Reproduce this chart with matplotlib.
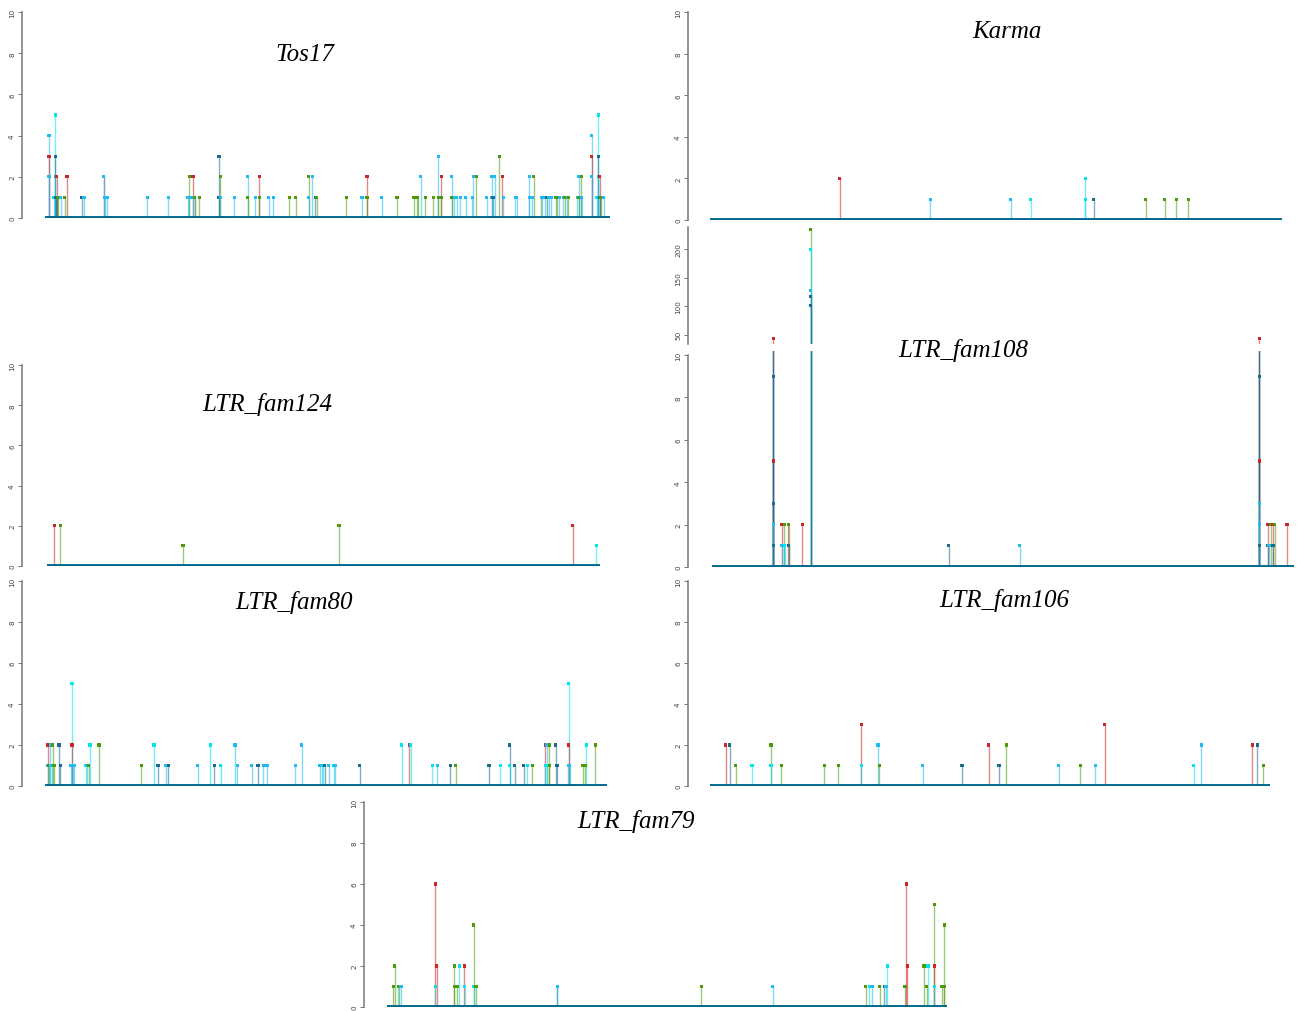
import matplotlib
matplotlib.use("Agg")
import matplotlib.pyplot as plt

# colour codes used for each sample
COLS = {"r": "#cd2626", "g": "#4f9a0a", "c": "#00e5ee",
        "s": "#1ebcf0", "d": "#1a6b8c"}
BASE = "#00688b"

# positions are % along the chromosome, one entry per sample hit
tos17_pos = [0.7, 0.7, 0.7, 1.6, 1.8, 1.8, 1.8, 1.9, 1.9, 2.1,
             2.1, 2.3, 2.8, 3.5, 3.9, 6.5, 6.9, 10.4, 10.4, 10.6,
             11.0, 18.1, 21.8, 25.3, 25.5, 25.5, 26.2, 26.2, 26.5, 26.5,
             27.3, 30.8, 30.8, 31.0, 31.0, 33.5, 35.9, 35.9, 37.2, 37.9,
             37.9, 39.6, 40.4, 43.2, 44.4, 46.7, 46.7, 47.3, 47.8, 48.1,
             53.3, 56.1, 57.0, 57.0, 59.6, 62.3, 65.3, 65.8, 66.0, 66.5,
             67.3, 68.7, 69.6, 69.6, 70.1, 70.1, 72.0, 72.0, 72.4, 72.9,
             73.5, 74.5, 75.6, 75.8, 76.3, 78.2, 79.1, 79.1, 79.3, 79.6,
             80.4, 80.9, 81.1, 83.2, 83.5, 85.7, 85.7, 86.2, 86.5, 87.8,
             87.9, 88.5, 88.8, 89.2, 89.6, 90.4, 90.6, 91.0, 91.7, 92.0,
             92.4, 92.6, 94.2, 94.5, 94.5, 94.9, 94.9, 95.0, 96.8, 96.8,
             96.8, 97.7, 97.9, 97.9, 97.9, 97.9, 98.2, 98.2, 98.4, 98.9]
tos17_val = [4, 3, 2, 1, 5, 3, 2, 1, 1, 2,
             1, 1, 1, 1, 2, 1, 1, 2, 2, 1,
             1, 1, 1, 1, 2, 1, 2, 1, 1, 1,
             1, 3, 1, 2, 1, 1, 2, 1, 1, 2,
             1, 1, 1, 1, 1, 2, 1, 2, 1, 1,
             1, 1, 2, 1, 1, 1, 1, 1, 1, 2,
             1, 1, 3, 1, 2, 1, 2, 1, 1, 1,
             1, 1, 1, 2, 2, 1, 2, 1, 1, 2,
             3, 2, 1, 1, 1, 2, 1, 1, 2, 1,
             1, 1, 1, 1, 1, 1, 1, 1, 1, 1,
             1, 1, 1, 2, 1, 2, 1, 1, 4, 3,
             2, 1, 5, 3, 2, 1, 2, 1, 1, 1]
tos17_col = list("srsccdsgdr" "dgsgrdsrss" "ssssgsrssg" "gddgsssgsr"
                 "gssgggssdg" "gsrgsggggs" "ggsgrgsgss" "ssssgsssds"
                 "grssssssgg" "ssdssggssg" "sgssggsssr" "sccdssrdgs")

karma_pos = [22.7, 38.5, 52.6, 56.1, 65.6, 65.6, 67.1, 76.2, 79.5, 81.5, 83.6]
karma_val = [2, 1, 1, 1, 2, 1, 1, 1, 1, 1, 1]
karma_col = list("rsscccdgggg")

fam108_pos = [10.5, 10.5, 10.5, 10.5, 10.5, 10.5, 10.5, 10.5, 12.0, 12.0,
              12.4, 12.4, 12.5, 13.1, 13.2, 13.2, 15.5, 17.0, 17.0, 17.0,
              17.0, 17.0, 40.7, 52.9, 94.0, 94.0, 94.0, 94.0, 94.0, 94.0,
              94.0, 94.0, 95.5, 95.5, 95.7, 96.0, 96.4, 96.4, 96.7, 98.8]
fam108_val = [43, 5, 20, 15, 9, 3, 2, 1, 2, 1,
              2, 1, 1, 2, 2, 1, 2, 235, 200, 127,
              118, 102, 1, 1, 43, 5, 20, 15, 9, 3,
              2, 1, 2, 1, 1, 2, 2, 1, 2, 2]
fam108_col = list("rrddddsdrs" "gscrgdrgcs" "dddsrrddds" "sdrdsgrdgr")

fam124_pos = [1.3, 2.4, 24.6, 52.8, 95.1, 99.3]
fam124_val = [2, 2, 1, 2, 2, 1]
fam124_col = list("rgggrc")

fam80_pos = [0.5, 0.5, 0.7, 0.9, 0.9, 1.2, 1.4, 1.6, 2.5, 2.7,
             4.6, 4.8, 4.8, 4.8, 5.0, 5.2, 7.3, 7.5, 7.8, 8.0,
             9.6, 17.1, 19.4, 20.1, 21.5, 21.9, 27.2, 29.4, 30.1, 31.3,
             33.8, 34.2, 36.8, 37.9, 38.8, 39.5, 44.5, 45.7, 48.9, 49.3,
             49.5, 49.8, 50.5, 51.4, 51.6, 56.0, 63.5, 64.8, 65.1, 68.9,
             69.8, 72.1, 73.1, 79.0, 81.0, 82.7, 82.7, 83.6, 85.2, 85.8,
             86.7, 89.0, 89.0, 89.3, 89.3, 89.7, 89.7, 90.9, 91.1, 93.1,
             93.2, 93.2, 93.2, 93.4, 95.7, 96.1, 96.3, 97.9]
fam80_val = [2, 1, 1, 2, 1, 1, 2, 1, 2, 1,
             1, 5, 2, 1, 1, 1, 1, 1, 1, 2,
             2, 1, 2, 1, 1, 1, 1, 2, 1, 1,
             2, 1, 1, 1, 1, 1, 1, 2, 1, 1,
             1, 1, 1, 1, 1, 1, 2, 2, 2, 1,
             1, 1, 1, 1, 1, 2, 1, 1, 1, 1,
             1, 2, 1, 2, 1, 2, 1, 2, 1, 1,
             5, 2, 1, 1, 1, 1, 2, 2]
fam80_col = list("rsgscsggdd" "scrssscsgc" "ggcdsdscdc" "sssdsssssc"
                 "sdscsdcrcc" "sdgdcdcddc" "grcscggdds" "crssggcg")

fam106_pos = [2.8, 3.5, 4.6, 7.5, 10.9, 10.9, 12.7, 20.4, 22.9, 27.0,
              27.0, 30.0, 30.2, 38.0, 45.0, 49.8, 51.6, 52.9, 62.3, 66.1,
              68.8, 70.5, 86.4, 87.7, 96.8, 97.7, 98.8]
fam106_val = [2, 2, 1, 1, 2, 1, 1, 1, 1, 3,
              1, 2, 1, 1, 1, 2, 1, 2, 1, 1,
              1, 3, 1, 2, 2, 2, 1]
fam106_col = list("rdgcgcgggr" "csgsdrdgsg" "srcsrdg")

fam79_pos = [1.1, 1.4, 2.0, 2.1, 2.5, 8.6, 8.6, 8.9, 12.0, 12.0,
             12.5, 12.9, 13.8, 13.9, 15.5, 15.5, 15.9, 30.4, 30.4, 56.1,
             68.9, 85.5, 86.1, 86.6, 88.0, 88.8, 89.1, 89.3, 92.5, 92.7,
             92.9, 95.9, 96.4, 96.6, 97.7, 97.7, 97.7, 99.1, 99.5, 99.5]
fam79_val = [1, 2, 1, 1, 1, 6, 1, 2, 2, 1,
             1, 2, 2, 1, 4, 1, 1, 1, 1, 1,
             1, 1, 1, 1, 1, 1, 1, 2, 1, 6,
             2, 2, 1, 2, 5, 2, 1, 1, 4, 1]
fam79_col = list("ggcgsrcrgg" "gcrcgcgdsg" "sgcsgdscgr" "rggcgrcggg")

W, H = 1298, 1012
fig = plt.figure(figsize=(W / 100, H / 100), dpi=100)


def make_axes(x0, x1, ybot, ytop, axis_x, ylim, ticks):
    ax = fig.add_axes([x0 / W, 1 - ybot / H, (x1 - x0) / W, (ybot - ytop) / H])
    ax.set_xlim(0, 100)
    ax.set_ylim(*ylim)
    for s in ("top", "right", "bottom"):
        ax.spines[s].set_visible(False)
    ax.spines["left"].set_position(("outward", (x0 - axis_x) * 0.72))
    ax.spines["left"].set_color("#777777")
    ax.spines["left"].set_linewidth(1.1)
    ax.set_xticks([])
    ax.set_yticks(ticks)
    ax.set_yticklabels([str(t) for t in ticks], rotation=90, va="center",
                       fontsize=5.2, color="#444444")
    ax.tick_params(axis="y", length=3, width=0.7, color="#777777", pad=2)
    ax.patch.set_alpha(0)
    return ax


def stems(ax, pos, val, col, ymin=0):
    assert len(pos) == len(val) == len(col)
    c = [COLS[k] for k in col]
    ax.vlines(pos, ymin, val, colors=c, lw=1.0, alpha=0.55, zorder=2)
    ax.scatter(pos, val, marker="s", s=5, c=c, linewidths=0, zorder=3)


def panel(pos, val, col, title, tx, ty, x0, x1, ybot, ytop, axis_x, top=10):
    ax = make_axes(x0, x1, ybot, ytop, axis_x, (0, top), [0, 2, 4, 6, 8, 10])
    if top > 10:
        ax.spines["left"].set_bounds(0, 10)
    stems(ax, pos, val, col)
    ax.plot([0, 100], [0, 0], color=BASE, lw=2.8, solid_capstyle="round", zorder=4)
    fig.text(tx / W, 1 - ty / H, title, ha="center", va="center", fontsize=18,
             family="Liberation Serif", style="italic")
    return ax


panel(tos17_pos, tos17_val, tos17_col, "Tos17", 305, 55, 45, 610, 219, 13, 22)
panel(karma_pos, karma_val, karma_col, "Karma", 1007, 32, 710, 1282, 221, 13, 688)
panel(fam124_pos, fam124_val, fam124_col, "LTR_fam124", 267, 405, 47, 600, 567, 366, 22)
panel(fam108_pos, fam108_val, fam108_col, "LTR_fam108", 963, 351, 712, 1294, 568,
      568 - 10.2 * 21.2, 688, top=10.2)
panel(fam80_pos, fam80_val, fam80_col, "LTR_fam80", 294, 602, 45, 607, 787, 582, 22)
panel(fam106_pos, fam106_val, fam106_col, "LTR_fam106", 1004, 601, 710, 1270, 787, 582, 688)
panel(fam79_pos, fam79_val, fam79_col, "LTR_fam79", 636, 822, 387, 947, 1008, 803, 364)

# broken upper part of LTR_fam108
up = make_axes(712, 1294, 345, 228, 688, (34, 239), [50, 100, 150, 200])
stems(up, fam108_pos, fam108_val, fam108_col)

fig.savefig("out.png", dpi=100)
